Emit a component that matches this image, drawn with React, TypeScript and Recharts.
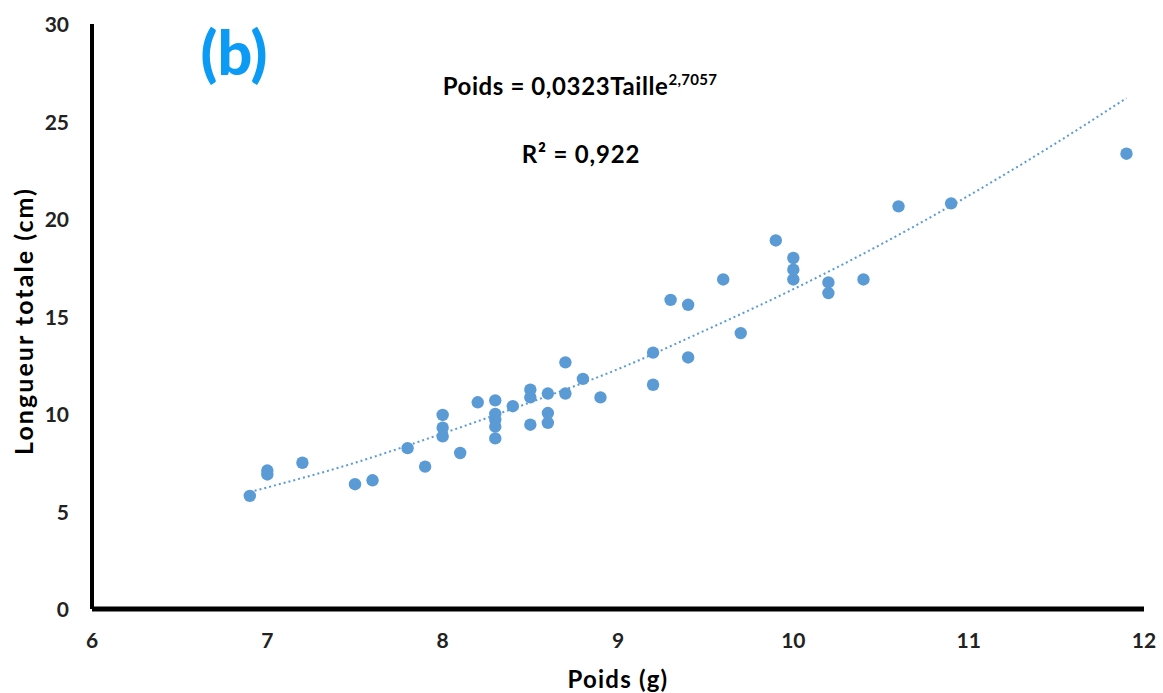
import React from "react";
import { ScatterChart, Scatter, XAxis, YAxis } from "recharts";

// Observed points (Poids g, Longueur totale cm)
const poids = [
  6.9, 7.0, 7.0, 7.2, 7.5, 7.6, 7.8, 7.9, 8.0, 8.0, 8.0, 8.1, 8.2, 8.3, 8.3, 8.3,
  8.3, 8.3, 8.4, 8.5, 8.5, 8.5, 8.6, 8.6, 8.6, 8.7, 8.7, 8.8, 8.9, 9.2, 9.2, 9.3,
  9.4, 9.4, 9.6, 9.7, 9.9, 10.0, 10.0, 10.0, 10.2, 10.2, 10.4, 10.6, 10.9, 11.9,
];
const longueur = [
  5.8, 7.1, 6.9, 7.5, 6.4, 6.6, 8.25, 7.3, 9.95, 9.3, 8.85, 8.0, 10.6, 10.7, 10.0, 9.7,
  9.35, 8.75, 10.4, 11.25, 10.85, 9.45, 11.05, 10.05, 9.55, 12.65, 11.05, 11.8, 10.85, 13.15, 11.5, 15.85,
  15.6, 12.9, 16.9, 14.15, 18.9, 18.0, 17.4, 16.9, 16.75, 16.2, 16.9, 20.65, 20.8, 23.35,
];

// Trend line
const trendX = [6.9, 7.5, 8.0, 8.5, 9.0, 9.5, 10.0, 10.5, 11.0, 11.5, 11.9];
const trendY = [6.0, 7.5, 9.0, 10.6, 12.3, 14.3, 16.4, 18.7, 21.2, 23.9, 26.2];

const xTicks = [6, 7, 8, 9, 10, 11, 12];
const yTicks = [0, 5, 10, 15, 20, 25, 30];

const points = poids.map((x, i) => ({ x, y: longueur[i] }));
const trend = trendX.map((x, i) => ({ x, y: trendY[i] }));

const FONT = "Lato, 'DejaVu Sans', sans-serif";
const BLUE = "#5B9BD5";

const XTick = (props: any) => {
  const { x, y, payload } = props;
  return (
    <text x={x} y={y + 38.5} textAnchor="middle" fontFamily={FONT} fontWeight={700} fontSize={21} fill="#222">
      {payload.value}
    </text>
  );
};

const YTick = (props: any) => {
  const { x, y, payload } = props;
  return (
    <text x={x - 23} y={y + 8} textAnchor="end" fontFamily={FONT} fontWeight={700} fontSize={21} fill="#222">
      {payload.value}
    </text>
  );
};

const Dot = (props: any) => {
  const { cx, cy } = props;
  return <circle cx={cx} cy={cy} r={6.2} fill={BLUE} />;
};

const NoDot = () => <g />;

export default function App() {
  return (
    <div style={{ position: "absolute", left: 0, top: 0, width: 1163, height: 693, background: "#fff" }}>
      <ScatterChart width={1163} height={693} margin={{ top: 24, right: 19, bottom: 0, left: 0 }}>
        <XAxis
          type="number"
          dataKey="x"
          domain={[6, 12]}
          ticks={xTicks}
          height={84}
          tickLine={false}
          tickSize={0}
          tickMargin={0}
          tick={<XTick />}
          axisLine={{ stroke: "#000", strokeWidth: 5 }}
          allowDataOverflow
        />
        <YAxis
          type="number"
          dataKey="y"
          domain={[0, 30]}
          ticks={yTicks}
          width={92}
          tickLine={false}
          tickSize={0}
          tickMargin={0}
          tick={<YTick />}
          axisLine={{ stroke: "#000", strokeWidth: 4 }}
          allowDataOverflow
        />
        <Scatter
          data={trend}
          isAnimationActive={false}
          shape={<NoDot />}
          line={{ stroke: BLUE, strokeWidth: 2, strokeDasharray: "2 3" }}
          lineJointType="monotoneX"
        />
        <Scatter data={points} isAnimationActive={false} shape={<Dot />} />
      </ScatterChart>
      <svg
        width={1163}
        height={693}
        style={{ position: "absolute", left: 0, top: 0, pointerEvents: "none" }}
      >
        <text x={234} y={75} textAnchor="middle" fontFamily={FONT} fontWeight={900} fontSize={61} fill="#0B9BF5">
          (b)
        </text>
        <text x={580} y={95} textAnchor="middle" fontFamily={FONT} fontWeight={700} fontSize={24} letterSpacing={0.6} fill="#000">
          Poids = 0,0323Taille
          <tspan fontSize={15} dy={-10} letterSpacing={0.3}>2,7057</tspan>
        </text>
        <text x={581} y={163} textAnchor="middle" fontFamily={FONT} fontWeight={700} fontSize={24} letterSpacing={0.8} fill="#000">
          R² = 0,922
        </text>
        <text x={618} y={688} textAnchor="middle" fontFamily={FONT} fontWeight={700} fontSize={24} letterSpacing={1.2} fill="#000">
          Poids (g)
        </text>
        <g transform="translate(33 322) rotate(-90)">
          <text
            x={0}
            y={0}
            textAnchor="middle"
            fontFamily={FONT}
            fontWeight={700}
            fontSize={25}
            fill="#000"
            textLength={266}
            lengthAdjust="spacing"
          >
            Longueur totale (cm)
          </text>
        </g>
      </svg>
    </div>
  );
}
